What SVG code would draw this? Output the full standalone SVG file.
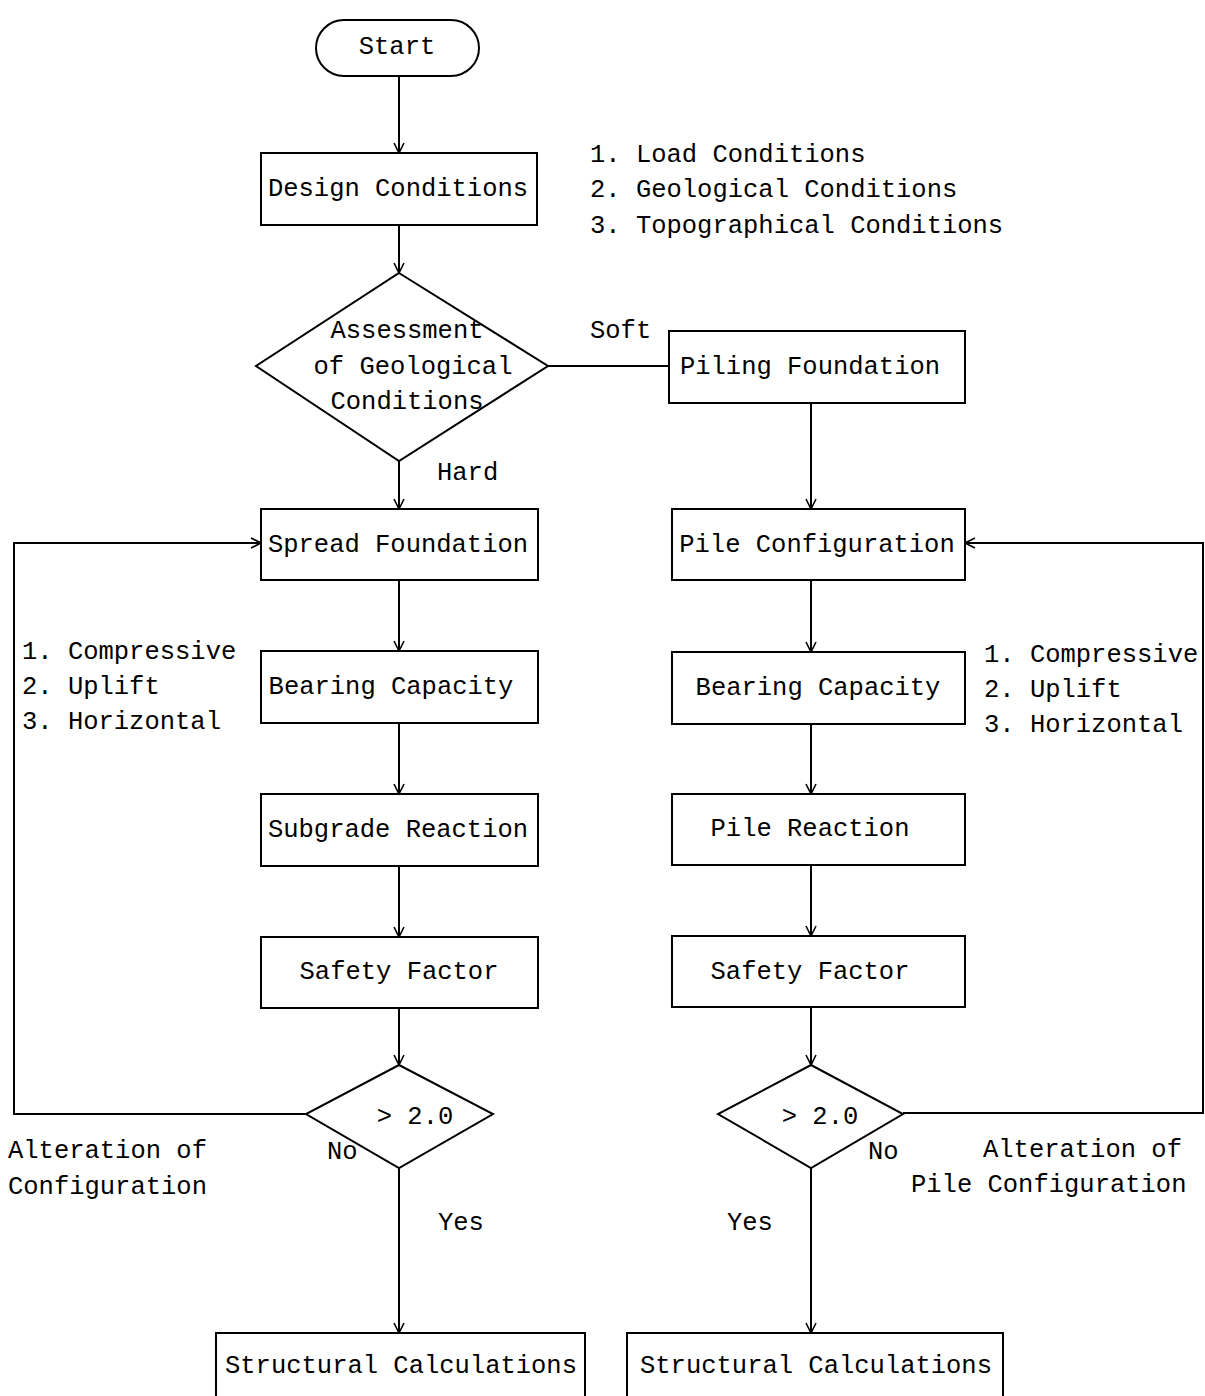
<svg xmlns="http://www.w3.org/2000/svg" width="1205" height="1396" viewBox="0 0 1205 1396">
<defs>
<marker id="arr" viewBox="0 0 12 12" refX="11" refY="6" markerWidth="12" markerHeight="12" markerUnits="userSpaceOnUse" orient="auto">
<path d="M1,1 L11,6 L1,11" fill="none" stroke="#000" stroke-width="1.6"/>
</marker>
</defs>
<style>
.s{fill:#fff;stroke:#000;stroke-width:2}
.c{fill:none;stroke:#000;stroke-width:2}
text{font-family:"Liberation Mono","DejaVu Sans Mono",monospace;font-size:25.5px;fill:#000;dominant-baseline:central}
</style>
<rect width="1205" height="1396" fill="#fff"/>
<g id="connectors">
<line class="c" x1="399" y1="76" x2="399" y2="153" marker-end="url(#arr)"/>
<line class="c" x1="399" y1="225" x2="399" y2="273" marker-end="url(#arr)"/>
<line class="c" x1="548" y1="366" x2="669" y2="366"/>
<line class="c" x1="399" y1="461" x2="399" y2="509" marker-end="url(#arr)"/>
<line class="c" x1="811" y1="403" x2="811" y2="509" marker-end="url(#arr)"/>
<line class="c" x1="399" y1="580" x2="399" y2="651" marker-end="url(#arr)"/>
<line class="c" x1="811" y1="580" x2="811" y2="652" marker-end="url(#arr)"/>
<line class="c" x1="399" y1="723" x2="399" y2="794" marker-end="url(#arr)"/>
<line class="c" x1="811" y1="724" x2="811" y2="794" marker-end="url(#arr)"/>
<line class="c" x1="399" y1="866" x2="399" y2="937" marker-end="url(#arr)"/>
<line class="c" x1="811" y1="865" x2="811" y2="936" marker-end="url(#arr)"/>
<line class="c" x1="399" y1="1008" x2="399" y2="1065" marker-end="url(#arr)"/>
<line class="c" x1="811" y1="1007" x2="811" y2="1065" marker-end="url(#arr)"/>
<polyline class="c" points="306,1114 14,1114 14,543 261,543" marker-end="url(#arr)"/>
<polyline class="c" points="903,1113 1203,1113 1203,543 965,543" marker-end="url(#arr)"/>
<line class="c" x1="399" y1="1168" x2="399" y2="1333" marker-end="url(#arr)"/>
<line class="c" x1="811" y1="1168" x2="811" y2="1333" marker-end="url(#arr)"/>
</g>
<g id="start"><rect class="s" x="316" y="20" width="163" height="56" rx="28"/><text x="397" y="47" text-anchor="middle">Start</text></g>
<g id="design-conditions"><rect class="s" x="261" y="153" width="276" height="72"/><text x="398" y="189" text-anchor="middle">Design Conditions</text></g>
<g id="design-notes"><text x="590" y="155">1. Load Conditions</text><text x="590" y="190">2. Geological Conditions</text><text x="590" y="226">3. Topographical Conditions</text></g>
<g id="assessment"><polygon class="s" points="399,273 548,366 399,461 256,366"/><text x="407" y="331" text-anchor="middle">Assessment</text><text x="413" y="367" text-anchor="middle">of Geological</text><text x="407" y="402" text-anchor="middle">Conditions</text></g>
<g id="labels"><text x="590" y="331">Soft</text><text x="437" y="473">Hard</text><text x="327" y="1152">No</text><text x="868" y="1152">No</text><text x="438" y="1223">Yes</text><text x="727" y="1223">Yes</text></g>
<g id="piling-foundation"><rect class="s" x="669" y="331" width="296" height="72"/><text x="810" y="367" text-anchor="middle">Piling Foundation</text></g>
<g id="spread-foundation"><rect class="s" x="261" y="509" width="277" height="71"/><text x="398" y="545" text-anchor="middle">Spread Foundation</text></g>
<g id="pile-configuration"><rect class="s" x="672" y="509" width="293" height="71"/><text x="817" y="545" text-anchor="middle">Pile Configuration</text></g>
<g id="bearing-left"><rect class="s" x="261" y="651" width="277" height="72"/><text x="391" y="687" text-anchor="middle">Bearing Capacity</text></g>
<g id="bearing-right"><rect class="s" x="672" y="652" width="293" height="72"/><text x="818" y="688" text-anchor="middle">Bearing Capacity</text></g>
<g id="left-notes"><text x="22" y="652">1. Compressive</text><text x="22" y="687">2. Uplift</text><text x="22" y="722">3. Horizontal</text></g>
<g id="right-notes"><text x="984" y="655">1. Compressive</text><text x="984" y="690">2. Uplift</text><text x="984" y="725">3. Horizontal</text></g>
<g id="subgrade-reaction"><rect class="s" x="261" y="794" width="277" height="72"/><text x="398" y="830" text-anchor="middle">Subgrade Reaction</text></g>
<g id="pile-reaction"><rect class="s" x="672" y="794" width="293" height="71"/><text x="810" y="829" text-anchor="middle">Pile Reaction</text></g>
<g id="safety-left"><rect class="s" x="261" y="937" width="277" height="71"/><text x="399" y="972" text-anchor="middle">Safety Factor</text></g>
<g id="safety-right"><rect class="s" x="672" y="936" width="293" height="71"/><text x="810" y="972" text-anchor="middle">Safety Factor</text></g>
<g id="check-left"><polygon class="s" points="399,1065 493,1114 399,1168 306,1114"/><text x="415" y="1117" text-anchor="middle">&gt; 2.0</text></g>
<g id="check-right"><polygon class="s" points="811,1065 903,1114 811,1168 718,1114"/><text x="820" y="1117" text-anchor="middle">&gt; 2.0</text></g>
<g id="alteration-left"><text x="8" y="1151">Alteration of</text><text x="8" y="1187">Configuration</text></g>
<g id="alteration-right"><text x="983" y="1150">Alteration of</text><text x="911" y="1185">Pile Configuration</text></g>
<g id="structural-left"><rect class="s" x="216" y="1333" width="369" height="80"/><text x="401" y="1366" text-anchor="middle">Structural Calculations</text></g>
<g id="structural-right"><rect class="s" x="627" y="1333" width="376" height="80"/><text x="816" y="1366" text-anchor="middle">Structural Calculations</text></g>
</svg>
